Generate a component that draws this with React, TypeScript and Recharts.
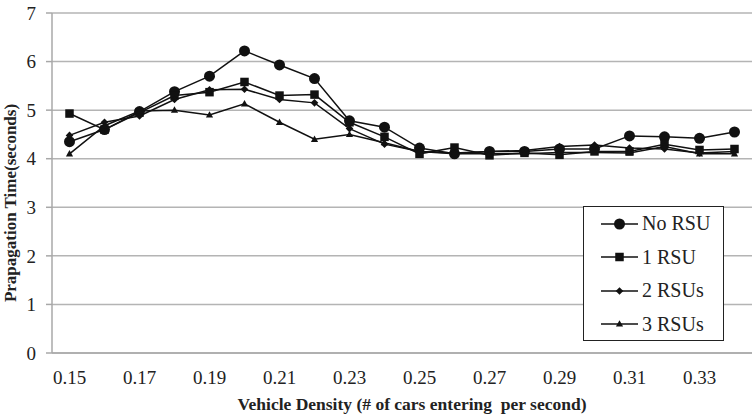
import React from 'react';
import { LineChart, Line, XAxis, YAxis, CartesianGrid } from 'recharts';

const densities = ['0.15', '0.16', '0.17', '0.18', '0.19', '0.20', '0.21', '0.22', '0.23', '0.24',
    '0.25', '0.26', '0.27', '0.28', '0.29', '0.30', '0.31', '0.32', '0.33', '0.34'];

const noRsu = [4.35, 4.6, 4.97, 5.38, 5.7, 6.22, 5.93, 5.65, 4.78, 4.65, 4.22, 4.1, 4.15, 4.15, 4.2, 4.2, 4.47, 4.45, 4.42, 4.55];
const oneRsu = [4.93, 4.6, 4.95, 5.3, 5.37, 5.58, 5.3, 5.32, 4.75, 4.45, 4.1, 4.23, 4.07, 4.12, 4.08, 4.15, 4.15, 4.3, 4.18, 4.2];
const twoRsus = [4.48, 4.75, 4.88, 5.22, 5.42, 5.43, 5.22, 5.15, 4.62, 4.3, 4.15, 4.12, 4.15, 4.17, 4.25, 4.28, 4.22, 4.2, 4.12, 4.15];
const threeRsus = [4.1, 4.68, 4.98, 5.0, 4.9, 5.13, 4.75, 4.4, 4.5, 4.33, 4.15, 4.1, 4.1, 4.1, 4.13, 4.13, 4.12, 4.25, 4.1, 4.1];

const yTicks = [0, 1, 2, 3, 4, 5, 6, 7];

const data = densities.map((d, i) => ({
    x: d,
    noRsu: noRsu[i],
    oneRsu: oneRsu[i],
    twoRsus: twoRsus[i],
    threeRsus: threeRsus[i],
}));

const FONT = 'Liberation Serif';

type Shape = 'circle' | 'square' | 'diamond' | 'triangle';

const Marker = ({ shape, cx, cy }: { shape: Shape; cx: number; cy: number }) => {
    if (cx == null || cy == null) return null;
    if (shape === 'circle') return <circle cx={cx} cy={cy} r={5.5} fill="#111" />;
    if (shape === 'square') return <rect x={cx - 4.25} y={cy - 4.25} width={8.5} height={8.5} fill="#111" />;
    if (shape === 'diamond')
        return <polygon points={`${cx},${cy - 3.8} ${cx + 3.8},${cy} ${cx},${cy + 3.8} ${cx - 3.8},${cy}`} fill="#111" />;
    return <polygon points={`${cx},${cy - 3.8} ${cx + 3.6},${cy + 2.6} ${cx - 3.6},${cy + 2.6}`} fill="#111" />;
};

const series: { key: string; name: string; shape: Shape }[] = [
    { key: 'noRsu', name: 'No RSU', shape: 'circle' },
    { key: 'oneRsu', name: '1 RSU', shape: 'square' },
    { key: 'twoRsus', name: '2 RSUs', shape: 'diamond' },
    { key: 'threeRsus', name: '3 RSUs', shape: 'triangle' },
];

const LegendBox = () => (
    <div style={{
        position: 'absolute', left: 583, top: 206,
        width: 141, height: 135, border: '1px solid #222', background: '#fff', boxSizing: 'border-box',
        fontFamily: FONT, fontSize: 20, color: '#222', paddingTop: 0,
    }}>
        {series.map((s) => (
            <div key={s.key} style={{ display: 'flex', alignItems: 'center', height: 33.5 }}>
                <svg width={58} height={20}>
                    <line x1={17} y1={10} x2={54} y2={10} stroke="#111" strokeWidth={1.5} />
                    <Marker shape={s.shape} cx={35.5} cy={10} />
                </svg>
                <span>{s.name}</span>
            </div>
        ))}
    </div>
);

const titleStyle = { fontFamily: FONT, fontWeight: 'bold' as const, fill: '#222' };

export default function App() {
    return (
        <div style={{ position: 'absolute', left: 0, top: 0, width: 752, height: 416, background: '#fff', fontFamily: FONT }}>
            <style>{`#root text, #root tspan, #root span { font-family: 'Liberation Serif' !important; }`}</style>
            <LineChart width={752} height={416} data={data} margin={{ top: 13, right: 0, bottom: 0, left: 0 }} style={{ fontFamily: FONT }}>
                <CartesianGrid vertical={false} stroke="#b4b4b4" strokeWidth={1.5} />
                <XAxis
                    dataKey="x"
                    interval={1}
                    height={63}
                    padding={{ left: 17.5, right: 17.5 }}
                    tickLine={false}
                    axisLine={{ stroke: '#a8a8a8', strokeWidth: 1.5 }}
                    tick={{ fontFamily: FONT, fontSize: 19, fill: '#222', dy: 10 }}
                    label={() => (
                        <text x={412} y={404} textAnchor="middle" dominantBaseline="central" fontSize={17.5} style={titleStyle}>
                            {'Vehicle Density (# of cars entering\u00A0 per second)'}
                        </text>
                    )}
                />
                <YAxis
                    width={52}
                    domain={[0, 7]}
                    ticks={yTicks}
                    tickSize={6}
                    tickLine={{ stroke: '#a8a8a8', strokeWidth: 1.5 }}
                    axisLine={{ stroke: '#a8a8a8', strokeWidth: 1.5 }}
                    tick={{ fontFamily: FONT, fontSize: 19, fill: '#222', dx: -8 }}
                    label={() => (
                        <text x={10} y={203} transform="rotate(-90 10 203)" textAnchor="middle" dominantBaseline="central" fontSize={17} style={titleStyle}>
                            Prapagation Time(seconds)
                        </text>
                    )}
                />
                {series.map((s) => (
                    <Line
                        key={s.key}
                        type="linear"
                        dataKey={s.key}
                        name={s.name}
                        stroke="#111"
                        strokeWidth={1.5}
                        isAnimationActive={false}
                        dot={(p: any) => <Marker key={`${s.key}-${p.index}`} shape={s.shape} cx={p.cx} cy={p.cy} />}
                        activeDot={false}
                    />
                ))}
            </LineChart>
            <LegendBox />
        </div>
    );
}
